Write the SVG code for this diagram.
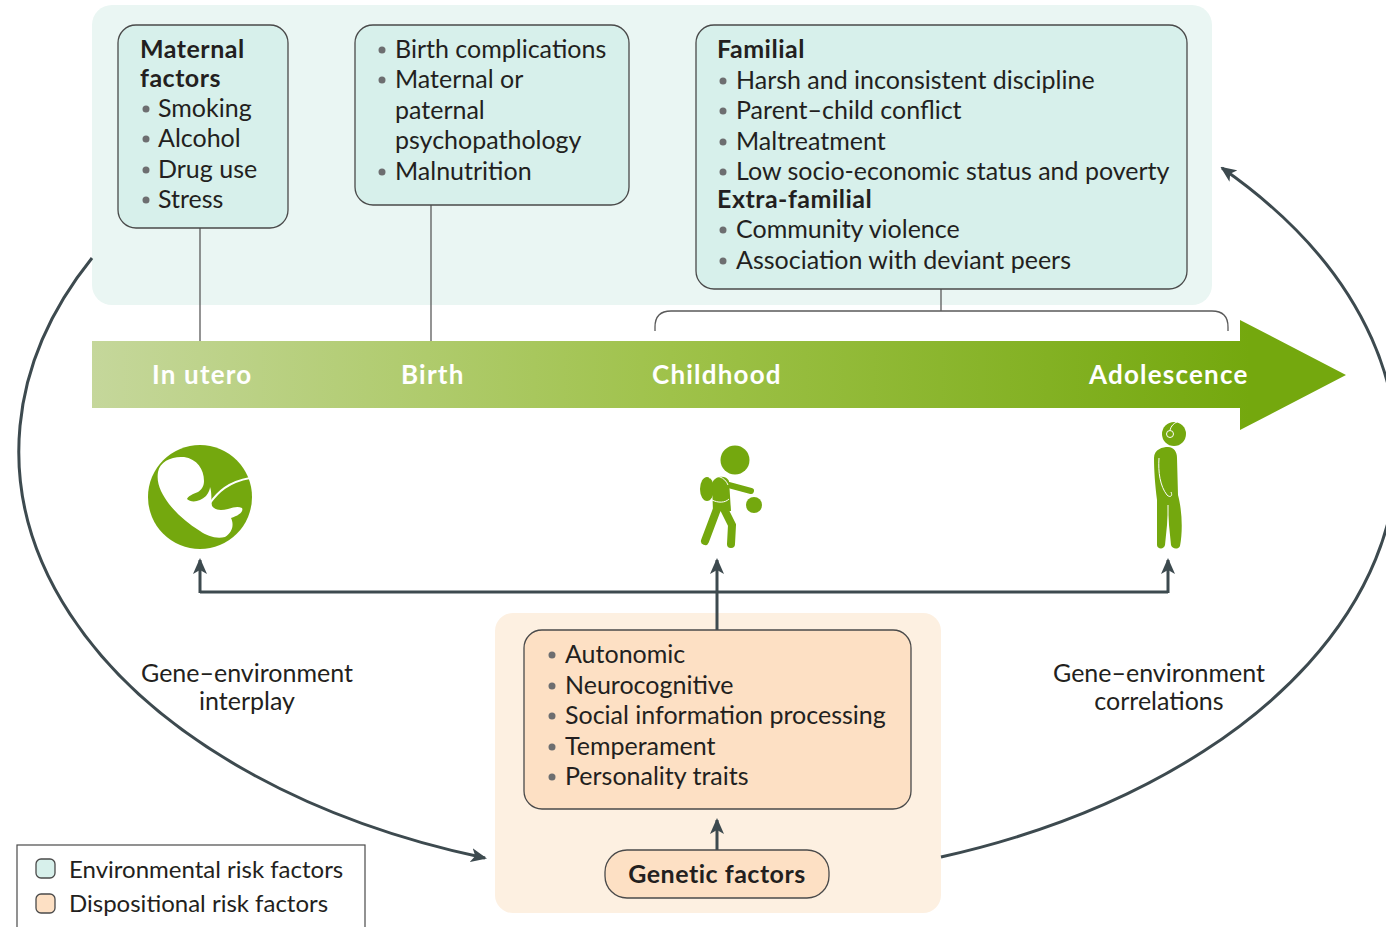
<svg xmlns="http://www.w3.org/2000/svg" width="1386" height="927" viewBox="0 0 1386 927">
<style>
.t{font-family:Lato,"Open Sans","Liberation Sans",sans-serif;font-size:25px;fill:#231f20}
.lg{font-size:24px}
.b{font-weight:bold;letter-spacing:0.5px}
.st{font-family:Lato,"Open Sans","Liberation Sans",sans-serif;font-size:26px;font-weight:bold;letter-spacing:1.2px;fill:#ffffff}
.env{fill:#d7f0eb;stroke:#4a4a4a;stroke-width:1.3}
.dis{fill:#fde0c4;stroke:#4a4a4a;stroke-width:1.3}
.thin{fill:none;stroke:#5a5a5a;stroke-width:1.3}
.con{fill:none;stroke:#3d4a4f;stroke-width:3}
.dot{fill:#6d6e70}
.ic{fill:#74a80e}
</style>
<defs>
<linearGradient id="bar" gradientUnits="userSpaceOnUse" x1="92" y1="0" x2="1250" y2="0">
<stop offset="0" stop-color="#c5d79b"/>
<stop offset="0.5" stop-color="#9fc24a"/>
<stop offset="1" stop-color="#74a80e"/>
</linearGradient>
<marker id="ah" viewBox="0 0 16 14" refX="14" refY="7" markerWidth="16" markerHeight="14" markerUnits="userSpaceOnUse" orient="auto">
<path d="M0,0 L16,7 L0,14 L4,7 z" fill="#3d4a4f"/>
</marker>
</defs>

<g id="env-panel">
<rect x="92" y="5" width="1120" height="300" rx="20" fill="#eaf6f3"/>
</g>

<g id="dis-panel">
<rect x="495" y="613" width="446" height="300" rx="18" fill="#fdf0e1"/>
</g>

<g id="connectors">
<line class="thin" x1="200" y1="228" x2="200" y2="341"/>
<line class="thin" x1="431" y1="205" x2="431" y2="341"/>
<line class="thin" x1="941" y1="289" x2="941" y2="311"/>
<path class="thin" d="M655,331 V327 Q655,311 671,311 H1212 Q1228,311 1228,327 V331"/>
<path class="con" d="M200,592 H1168"/>
<path class="con" d="M200,593 V560" marker-end="url(#ah)"/>
<path class="con" d="M1168,593 V560" marker-end="url(#ah)"/>
<path class="con" d="M717,630 V560" marker-end="url(#ah)"/>
<path class="con" d="M717,850 V820" marker-end="url(#ah)"/>
<path class="con" d="M92,258 A683,429 0 0 0 485,858" marker-end="url(#ah)"/>
<path class="con" d="M941,857 A690,429 0 0 0 1222,168" marker-end="url(#ah)"/>
</g>

<g id="maternal-factors">
<rect class="env" x="118" y="25" width="170" height="203" rx="18"/>
<text class="t b" x="140" y="58">Maternal</text>
<text class="t b" x="140" y="87">factors</text>
<circle class="dot" cx="146" cy="109" r="3.5"/><text class="t" x="158" y="117">Smoking</text>
<circle class="dot" cx="146" cy="139" r="3.5"/><text class="t" x="158" y="147">Alcohol</text>
<circle class="dot" cx="146" cy="170" r="3.5"/><text class="t" x="158" y="178">Drug use</text>
<circle class="dot" cx="146" cy="200" r="3.5"/><text class="t" x="158" y="208">Stress</text>
</g>

<g id="birth-factors">
<rect class="env" x="355" y="25" width="274" height="180" rx="18"/>
<circle class="dot" cx="382" cy="50" r="3.5"/><text class="t" x="395" y="58">Birth complications</text>
<circle class="dot" cx="382" cy="80" r="3.5"/><text class="t" x="395" y="88">Maternal or</text>
<text class="t" x="395" y="119">paternal</text>
<text class="t" x="395" y="149">psychopathology</text>
<circle class="dot" cx="382" cy="172" r="3.5"/><text class="t" x="395" y="180">Malnutrition</text>
</g>

<g id="familial-factors">
<rect class="env" x="696" y="25" width="491" height="264" rx="18"/>
<text class="t b" x="717" y="58">Familial</text>
<circle class="dot" cx="723" cy="81" r="3.5"/><text class="t" x="736" y="89">Harsh and inconsistent discipline</text>
<circle class="dot" cx="723" cy="111" r="3.5"/><text class="t" x="736" y="119">Parent–child conflict</text>
<circle class="dot" cx="723" cy="142" r="3.5"/><text class="t" x="736" y="150">Maltreatment</text>
<circle class="dot" cx="723" cy="172" r="3.5"/><text class="t" x="736" y="180">Low socio-economic status and poverty</text>
<text class="t b" x="717" y="208">Extra-familial</text>
<circle class="dot" cx="723" cy="230" r="3.5"/><text class="t" x="736" y="238">Community violence</text>
<circle class="dot" cx="723" cy="261" r="3.5"/><text class="t" x="736" y="269">Association with deviant peers</text>
</g>

<g id="timeline">
<path d="M92,341 H1240 V320 L1346,375 L1240,430 V408 H92 Z" fill="url(#bar)"/>
<text class="st" x="152" y="384">In utero</text>
<text class="st" x="401" y="384">Birth</text>
<text class="st" x="652" y="384">Childhood</text>
<text class="st" x="1089" y="384">Adolescence</text>
</g>

<g id="icon-fetus">
<circle class="ic" cx="200" cy="497" r="52"/>
<path fill="#ffffff" d="M158,472 C160,461 172,456 184,457 C197,459 204,469 204,481 C204,487 201,490 198,492 C193,494 188,496 187,499 C191,503 200,502 206,496 C209,492 210,489 210,487 C212,492 211,500 212,506 C215,510 220,511 228,509 C234,507 238,506 242,508 C244,512 238,516 231,518 C234,524 233,532 225,537 C216,539 207,536 200,531 C187,523 177,514 169,504 C162,494 156,484 158,472 Z"/>
<path fill="none" stroke="#ffffff" stroke-width="2" d="M210,503 C218,492 228,482 250,478"/>
</g>

<g id="icon-child">
<circle class="ic" cx="735" cy="460" r="14.5"/>
<ellipse class="ic" cx="707" cy="489" rx="7" ry="12"/>
<path class="ic" d="M712,484 C713,476 726,474 729,481 L731,511 L713,511 Z"/>
<path fill="none" stroke="#74a80e" stroke-width="6" stroke-linecap="round" d="M725,484 L751,491"/>
<circle class="ic" cx="754" cy="505" r="8"/>
<path fill="none" stroke="#74a80e" stroke-width="8" stroke-linecap="round" d="M717,509 L705,541 M724,509 L732,525 L731,544"/>
<path fill="none" stroke="#ffffff" stroke-width="1" d="M709,478 C716,474 725,477 728,485 M712,500 C718,503 725,503 729,499"/>
</g>

<g id="icon-adolescent">
<circle class="ic" cx="1174" cy="434" r="12"/>
<circle fill="none" stroke="#ffffff" stroke-width="1" cx="1170" cy="434" r="3.5"/>
<path fill="none" stroke="#ffffff" stroke-width="1" d="M1170,430 C1171,426 1174,423 1177,422"/>
<path class="ic" d="M1154,458 C1154,449 1163,447 1168,447 C1174,447 1177,452 1177,458 L1178,495 C1182,510 1183,530 1180,546 C1178,550 1172,549 1171,545 L1168,515 L1165,545 C1164,550 1157,549 1157,545 L1157,500 C1155,485 1154,470 1154,458 Z"/>
<path fill="none" stroke="#ffffff" stroke-width="1" d="M1159,458 C1158,472 1160,486 1167,495 C1170,498 1173,496 1171,492 M1168,505 L1168,540"/>
</g>

<g id="dispositional-factors">
<rect class="dis" x="524" y="630" width="387" height="179" rx="18"/>
<circle class="dot" cx="552" cy="655" r="3.5"/><text class="t" x="565" y="663">Autonomic</text>
<circle class="dot" cx="552" cy="686" r="3.5"/><text class="t" x="565" y="694">Neurocognitive</text>
<circle class="dot" cx="552" cy="716" r="3.5"/><text class="t" x="565" y="724">Social information processing</text>
<circle class="dot" cx="552" cy="747" r="3.5"/><text class="t" x="565" y="755">Temperament</text>
<circle class="dot" cx="552" cy="777" r="3.5"/><text class="t" x="565" y="785">Personality traits</text>
</g>

<g id="genetic-factors">
<rect class="dis" x="605" y="850" width="224" height="48" rx="22"/>
<text class="t b" x="717" y="883" text-anchor="middle">Genetic factors</text>
</g>

<g id="labels">
<text class="t" x="247" y="682" text-anchor="middle">Gene–environment</text>
<text class="t" x="247" y="710" text-anchor="middle">interplay</text>
<text class="t" x="1159" y="682" text-anchor="middle">Gene–environment</text>
<text class="t" x="1159" y="710" text-anchor="middle">correlations</text>
</g>

<g id="legend">
<rect x="17" y="845" width="348" height="100" fill="#ffffff" stroke="#4a4a4a" stroke-width="1.2"/>
<rect class="env" x="36" y="859" width="19" height="19" rx="5"/>
<rect class="dis" x="36" y="894" width="19" height="19" rx="5"/>
<text class="t lg" x="69" y="878">Environmental risk factors</text>
<text class="t lg" x="69" y="912">Dispositional risk factors</text>
</g>
</svg>
